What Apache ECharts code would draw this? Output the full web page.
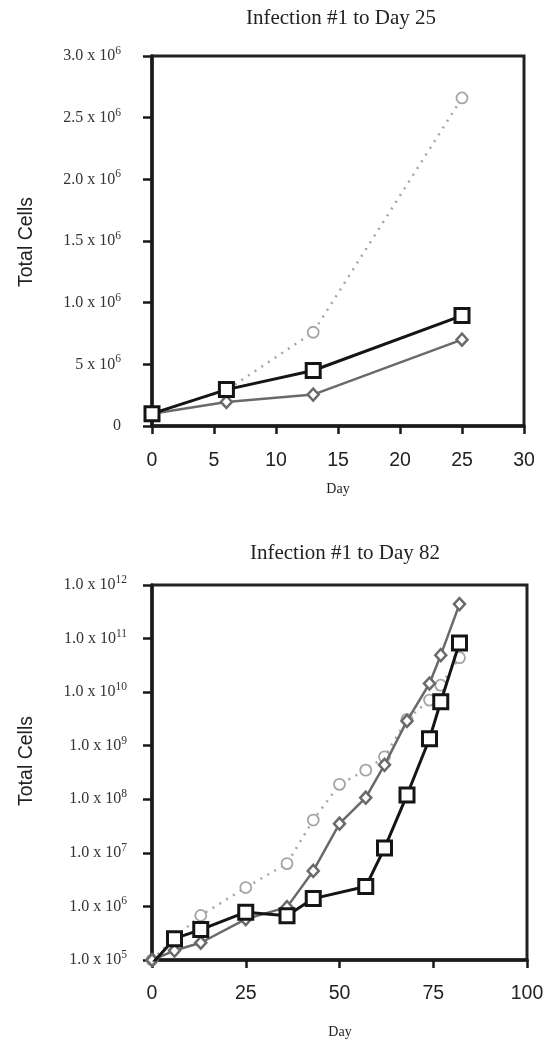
<!DOCTYPE html>
<html>
<head>
<meta charset="utf-8">
<title>Infection #1</title>
<script src="https://cdn.jsdelivr.net/npm/echarts@6/dist/echarts.min.js"></script>
<style>
  html, body { margin: 0; padding: 0; background: #fff; }
  #chart { width: 549px; height: 1041px; }
</style>
</head>
<body>
<div id="chart"></div>
<script>
// chart 1 - Infection #1 to Day 25 (linear)
const days1 = [0, 6, 13, 25]
const square1 = [1.0e5, 2.95e5, 4.5e5, 8.95e5]
const circle1 = [1.0e5, 2.9e5, 7.6e5, 2.66e6]
const diamond1 = [1.0e5, 1.95e5, 2.55e5, 7.0e5]
const yLabels1 = ['0', '5 x 10^6', '1.0 x 10^6', '1.5 x 10^6', '2.0 x 10^6', '2.5 x 10^6', '3.0 x 10^6']
const xLabels1 = ['0', '5', '10', '15', '20', '25', '30']

// chart 2 - Infection #1 to Day 82 (log)
const days2 = [0, 6, 13, 25, 36, 43, 50, 57, 62, 68, 74, 77, 82]
const square2Days = [0, 6, 13, 25, 36, 43, 57, 62, 68, 74, 77, 82]
const square2 = [8.5e4, 2.5e5, 3.7e5, 7.8e5, 6.7e5, 1.4e6, 2.35e6, 1.23e7, 1.2e8, 1.35e9, 6.6e9, 8.3e10]
const diamond2 = [1.0e5, 1.5e5, 2.1e5, 5.8e5, 9.7e5, 4.6e6, 3.5e7, 1.07e8, 4.4e8, 2.9e9, 1.45e10, 4.9e10, 4.4e11]
const circle2 = [1.0e5, 2.6e5, 6.8e5, 2.25e6, 6.3e6, 4.1e7, 1.9e8, 3.5e8, 6.2e8, 3.1e9, 7.1e9, 1.35e10, 4.4e10]
const yLabels2 = ['1.0 x 10^5', '1.0 x 10^6', '1.0 x 10^7', '1.0 x 10^8', '1.0 x 10^9', '1.0 x 10^10', '1.0 x 10^11', '1.0 x 10^12']
const xLabels2 = ['0', '25', '50', '75', '100']

const serif = '"Liberation Serif", "DejaVu Serif", serif'
const sans = '"Liberation Sans", Arial, sans-serif'

function pairs(xs, ys) {
  return xs.map((x, i) => [x, ys[i]])
}

function sup(label) {
  const parts = label.split('^')
  if (parts.length < 2) return '{b|' + parts[0] + '}'
  return '{b|' + parts[0] + '}{s|' + parts[1] + '}'
}

const yRich = {
  b: { fontFamily: serif, fontSize: 16, color: '#333' },
  s: { fontFamily: serif, fontSize: 11.5, color: '#333', padding: [0, 0, 10, 0] }
}

const axisLineStyle = { lineStyle: { color: '#1a1a1a', width: 3.5 } }

function squareSeries(x, y, data) {
  return {
    type: 'line', xAxisIndex: x, yAxisIndex: y, z: 4,
    data,
    symbol: 'rect', symbolSize: 14,
    lineStyle: { color: '#151515', width: 3 },
    itemStyle: { color: '#fff', borderColor: '#151515', borderWidth: 3 }
  }
}
function diamondSeries(x, y, data) {
  return {
    type: 'line', xAxisIndex: x, yAxisIndex: y, z: 3,
    data,
    symbol: 'diamond', symbolSize: [11, 12],
    lineStyle: { color: '#6a6a6a', width: 2.5 },
    itemStyle: { color: '#fff', borderColor: '#6a6a6a', borderWidth: 2.5 }
  }
}
function circleSeries(x, y, data) {
  return {
    type: 'line', xAxisIndex: x, yAxisIndex: y, z: 2,
    data,
    symbol: 'circle', symbolSize: 11,
    lineStyle: { color: '#a5a5a5', width: 2.5, type: [2, 6] },
    itemStyle: { color: '#fff', borderColor: '#a5a5a5', borderWidth: 1.8 }
  }
}

const chart = echarts.init(document.getElementById('chart'), null, { renderer: 'canvas' })

chart.setOption({
  animation: false,
  backgroundColor: '#fff',
  title: [
    { text: 'Infection #1 to Day 25', left: 336, top: 3, textAlign: 'center',
      textStyle: { fontFamily: serif, fontSize: 21, fontWeight: 'normal', color: '#222' } },
    { text: 'Infection #1 to Day 82', left: 340, top: 538, textAlign: 'center',
      textStyle: { fontFamily: serif, fontSize: 21, fontWeight: 'normal', color: '#222' } }
  ],
  graphic: [
    { type: 'text', x: 27, y: 242, rotation: Math.PI / 2,
      style: { text: 'Total Cells', fontFamily: sans, fontSize: 19.5, fill: '#222', align: 'center', verticalAlign: 'middle' } },
    { type: 'text', x: 27, y: 761, rotation: Math.PI / 2,
      style: { text: 'Total Cells', fontFamily: sans, fontSize: 19.5, fill: '#222', align: 'center', verticalAlign: 'middle' } },
    { type: 'text', x: 338, y: 489,
      style: { text: 'Day', fontFamily: serif, fontSize: 14, fill: '#222', align: 'center', verticalAlign: 'middle' } },
    { type: 'text', x: 340, y: 1032,
      style: { text: 'Day', fontFamily: serif, fontSize: 14, fill: '#222', align: 'center', verticalAlign: 'middle' } }
  ],
  grid: [
    { left: 152, right: 25, top: 56, height: 370, show: true, borderColor: '#222', borderWidth: 3, containLabel: false },
    { left: 152, right: 22, top: 585, height: 375, show: true, borderColor: '#222', borderWidth: 3, containLabel: false }
  ],
  xAxis: [
    {
      gridIndex: 0, type: 'value', min: 0, max: 30, interval: 5,
      axisLine: { onZero: false, ...axisLineStyle },
      axisTick: { length: 8, lineStyle: { color: '#1a1a1a', width: 2.5 } },
      splitLine: { show: false },
      axisLabel: {
        margin: 25, fontFamily: sans, fontSize: 19.5, color: '#222',
        formatter: (v) => xLabels1[Math.round(v / 5)]
      }
    },
    {
      gridIndex: 1, type: 'value', min: 0, max: 100, interval: 25,
      axisLine: { onZero: false, ...axisLineStyle },
      axisTick: { length: 8, lineStyle: { color: '#1a1a1a', width: 2.5 } },
      splitLine: { show: false },
      axisLabel: {
        margin: 24, fontFamily: sans, fontSize: 19.5, color: '#222',
        formatter: (v) => xLabels2[Math.round(v / 25)]
      }
    }
  ],
  yAxis: [
    {
      gridIndex: 0, type: 'value', min: 0, max: 3e6, interval: 5e5,
      axisLine: { onZero: false, ...axisLineStyle },
      axisTick: { length: 9, lineStyle: { color: '#1a1a1a', width: 2.5 } },
      splitLine: { show: false },
      axisLabel: {
        margin: 31, rich: yRich,
        formatter: (v) => sup(yLabels1[Math.round(v / 5e5)])
      }
    },
    {
      gridIndex: 1, type: 'log', logBase: 10, min: 1e5, max: 1e12,
      axisLine: { onZero: false, ...axisLineStyle },
      axisTick: { length: 9, lineStyle: { color: '#1a1a1a', width: 2.5 } },
      splitLine: { show: false },
      minorTick: { show: false },
      axisLabel: {
        margin: 25, rich: yRich,
        formatter: (v) => {
          const i = Math.round(Math.log10(v)) - 5
          return yLabels2[i] ? sup(yLabels2[i]) : ''
        }
      }
    }
  ],
  series: [
    circleSeries(0, 0, pairs(days1, circle1)),
    diamondSeries(0, 0, pairs(days1, diamond1)),
    squareSeries(0, 0, pairs(days1, square1)),
    circleSeries(1, 1, pairs(days2, circle2)),
    diamondSeries(1, 1, pairs(days2, diamond2)),
    squareSeries(1, 1, pairs(square2Days, square2))
  ]
})
</script>
</body>
</html>
